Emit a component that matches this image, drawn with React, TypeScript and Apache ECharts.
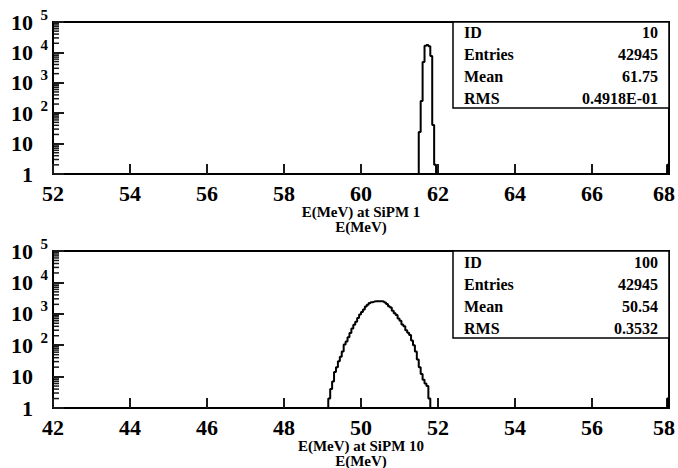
import React, { useEffect, useRef } from 'react';
import * as echarts from 'echarts';

const BIN_WIDTH = 0.05;
const topRange = [52, 68];
const bottomRange = [42, 58];
const xInterval = 2;
const yRange = [1, 100000];

// top histogram (SiPM 1): bins of 0.05 MeV starting at 61.50
const topStart = 61.5;
const topCounts = [24, 250, 4800, 16500, 17500, 16000, 7600, 41, 2];
const topEdgeStart = 67.95;
const topEdgeCount = 2;

// bottom histogram (SiPM 10): bins of 0.05 MeV starting at 49.15
const bottomStart = 49.15;
const bottomCounts = [
  2, 4, 7, 14, 20, 31, 43, 63, 105, 132, 178, 245, 340, 445, 560, 740, 950, 1150, 1380, 1700,
  1950, 2190, 2340, 2450, 2500, 2520, 2520, 2500,
  2480, 2290, 2040, 1740, 1580, 1260, 1050, 910, 710, 600, 460, 400, 300, 250, 210, 140, 100,
  63, 35, 20, 12, 8, 6, 5, 2,
];
const bottomEdgeStart = 57.95;
const bottomEdgeCount = 2;

const topTitle = ['E(MeV) at SiPM 1', 'E(MeV)'];
const bottomTitle = ['E(MeV) at SiPM 10', 'E(MeV)'];
const statLabels = ['ID', 'Entries', 'Mean', 'RMS'];
const topStats = ['10', '42945', '61.75', '0.4918E-01'];
const bottomStats = ['100', '42945', '50.54', '0.3532'];

const FONT = '"Liberation Serif", "Times New Roman", serif';
const TICK = '#1a1a1a';

function stepPoints(start: number, counts: number[], edgeStart: number, edgeCount: number) {
  const pts: number[][] = [];
  pts.push([start, 1]);
  counts.forEach((c, i) => {
    const x0 = start + i * BIN_WIDTH;
    const v = Math.max(c, 1);
    pts.push([x0, v], [x0 + BIN_WIDTH, v]);
  });
  const end = start + counts.length * BIN_WIDTH;
  pts.push([end, 1]);
  pts.push([edgeStart, 1], [edgeStart, edgeCount], [edgeStart + BIN_WIDTH, edgeCount], [edgeStart + BIN_WIDTH, 1]);
  return pts;
}

const minorTickValues: number[] = [];
for (let e = 0; e < 5; e++) {
  for (let m = 2; m <= 9; m++) minorTickValues.push(m * Math.pow(10, e));
}

export default function App() {
  const ref = useRef<HTMLDivElement>(null);
  useEffect(() => {
    if (!ref.current) return;
    const chart = echarts.init(ref.current, null, { renderer: 'svg' });
    const grids = [
      { left: 53, top: 22, width: 616, height: 152 },
      { left: 53, top: 251, width: 616, height: 157 },
    ];
    const ranges = [topRange, bottomRange];
    const titles = [topTitle, bottomTitle];
    const xAxes = ranges.map((r, i) => ({
      type: 'value',
      gridIndex: i,
      min: r[0],
      max: r[1],
      interval: xInterval,
      axisLine: { show: true, onZero: false, lineStyle: { color: '#000', width: 2 } },
      axisTick: { show: true, inside: true, length: 10, lineStyle: { color: TICK, width: 2 } },
      splitLine: { show: false },
      axisLabel: {
        margin: 8,
        showMinLabel: true,
        showMaxLabel: true,
        color: '#000',
        fontFamily: FONT,
        fontWeight: 'bold',
        fontSize: 22,
        formatter: (v: number) => (v === r[1] ? `{m|${v}}` : `${v}`),
        rich: {
          m: { fontFamily: FONT, fontWeight: 'bold', fontSize: 22, color: '#000', padding: [0, 10, 0, 0] },
        },
      },
      name: titles[i].join('\n'),
      nameLocation: 'middle',
      nameGap: 28,
      nameTextStyle: { color: '#000', fontFamily: FONT, fontWeight: 'bold', fontSize: 15, lineHeight: 15 },
    }));
    const yAxes = [0, 1].map((i) => ({
      type: 'log',
      logBase: 10,
      gridIndex: i,
      min: yRange[0],
      max: yRange[1],
      axisLine: { show: true, onZero: false, lineStyle: { color: '#000', width: 2 } },
      axisTick: { show: true, inside: true, length: 11, lineStyle: { color: TICK, width: 2 } },
      splitLine: { show: false },
      axisLabel: {
        margin: 5,
        formatter: (v: number) => {
          const e = Math.round(Math.log10(v));
          if (e === 0) return '{b|1}{s| }';
          if (e === 1) return '{b|10}{s| }';
          return `{b|10}{s|${e}}`;
        },
        rich: {
          b: { fontFamily: FONT, fontWeight: 'bold', fontSize: 22, lineHeight: 30, color: '#000' },
          s: { fontFamily: FONT, fontWeight: 'bold', fontSize: 15, lineHeight: 14, verticalAlign: 'top', width: 15, align: 'right', color: '#000' },
        },
      },
    }));
    const hist = [
      stepPoints(topStart, topCounts, topEdgeStart, topEdgeCount),
      stepPoints(bottomStart, bottomCounts, bottomEdgeStart, bottomEdgeCount),
    ];
    const series: any[] = hist.map((pts, i) => ({
      type: 'line',
      xAxisIndex: i,
      yAxisIndex: i,
      data: pts,
      symbol: 'none',
      showSymbol: false,
      lineStyle: { color: '#000', width: 2 },
    }));

    const statsBoxes = [
      { x: 453, y: 22, w: 216, h: 86, rowY: 32, values: topStats },
      { x: 453, y: 251, w: 216, h: 87, rowY: 262, values: bottomStats },
    ];
    const graphic: any[] = [];
    statsBoxes.forEach((b) => {
      graphic.push({
        type: 'rect',
        shape: { x: b.x, y: b.y, width: b.w, height: b.h },
        style: { fill: '#fff', stroke: '#000', lineWidth: 1.5 },
      });
      statLabels.forEach((lab, k) => {
        graphic.push({
          type: 'text', x: b.x + 11, y: b.rowY + k * 22,
          style: { text: lab, font: `bold 16px ${FONT}`, fill: '#000', textAlign: 'left', textVerticalAlign: 'middle' },
        });
        graphic.push({
          type: 'text', x: b.x + b.w - 11, y: b.rowY + k * 22,
          style: { text: b.values[k], font: `bold 16px ${FONT}`, fill: '#000', textAlign: 'right', textVerticalAlign: 'middle' },
        });
      });
    });

    chart.setOption({
      animation: false,
      grid: grids.map((g) => ({ ...g, show: true, borderColor: '#000', borderWidth: 2, outerBoundsMode: 'none', containLabel: false })),
      xAxis: xAxes,
      yAxis: yAxes,
      series,
      graphic,
    } as any);

    // minor log ticks (2..9 per decade), placed through the axes' own scales
    const ticks: any[] = [];
    [0, 1].forEach((i) => {
      minorTickValues.forEach((v) => {
        const p = chart.convertToPixel({ xAxisIndex: i, yAxisIndex: i } as any, [ranges[i][0], v]) as number[];
        if (!p) return;
        ticks.push({
          type: 'line',
          shape: { x1: p[0], y1: p[1], x2: p[0] + 6, y2: p[1] },
          style: { stroke: TICK, lineWidth: 1.5 },
        });
      });
    });
    chart.setOption({ graphic: graphic.concat(ticks) } as any);

    return () => chart.dispose();
  }, []);
  return <div ref={ref} style={{ position: 'fixed', left: 0, top: 0, width: 678, height: 468, background: '#fff' }} />;
}
